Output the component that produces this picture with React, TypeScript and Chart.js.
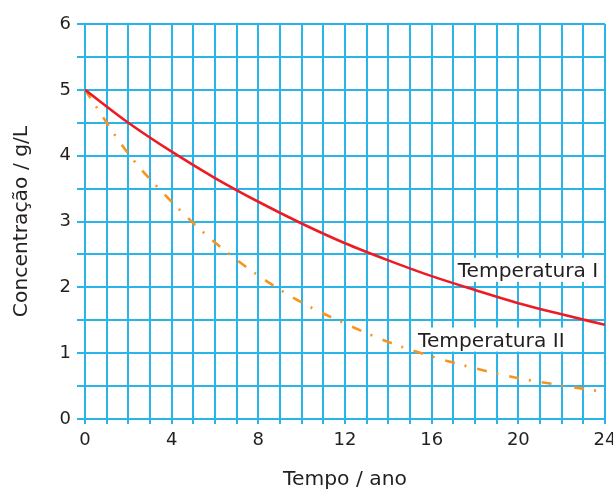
import React, { useEffect, useRef } from "react";
import { Chart, registerables } from "chart.js";

Chart.register(...registerables);

const timeYears = [0, 2, 4, 6, 8, 10, 12, 14, 16, 18, 20, 22, 24];
const temperaturaI = [5.0, 4.5, 4.06, 3.66, 3.3, 2.97, 2.67, 2.41, 2.17, 1.96, 1.76, 1.59, 1.43];
const temperaturaII = [5.0, 4.03, 3.3, 2.68, 2.18, 1.77, 1.45, 1.17, 0.95, 0.77, 0.62, 0.51, 0.41];
const seriesNames = ["Temperatura I", "Temperatura II"];
const xTitle = "Tempo / ano";
const yTitle = "Concentração / g/L";

const FONT = '"DejaVu Sans", Verdana, sans-serif';
const GRID = "#29b5ea";
const TEXT = "#231f20";

const labelPlugin = {
  id: "seriesLabels",
  beforeDatasetsDraw(chart: any) {
    const { ctx, scales } = chart;
    const xs = scales.x;
    const ys = scales.y;
    const items = [
      { text: seriesNames[0], x: 17.2, y: 2.16 },
      { text: seriesNames[1], x: 15.37, y: 1.1 },
    ];
    ctx.save();
    ctx.font = "20.2px " + FONT;
    ctx.textBaseline = "alphabetic";
    ctx.textAlign = "left";
    for (const it of items) {
      const px = xs.getPixelForValue(it.x);
      const py = ys.getPixelForValue(it.y);
      const w = ctx.measureText(it.text).width;
      ctx.fillStyle = "#ffffff";
      ctx.fillRect(px - 3, py - 19, w + 6, 24);
      ctx.fillStyle = TEXT;
      ctx.fillText(it.text, px, py);
    }
    ctx.restore();
  },
};

export default function App() {
  const ref = useRef<HTMLCanvasElement | null>(null);

  useEffect(() => {
    if (!ref.current) return;
    const chart = new Chart(ref.current, {
      type: "line",
      data: {
        datasets: [
          {
            label: seriesNames[0],
            data: timeYears.map((t, i) => ({ x: t, y: temperaturaI[i] })),
            borderColor: "#ed1c24",
            borderWidth: 2.6,
            pointRadius: 0,
            cubicInterpolationMode: "monotone",
            fill: false,
          },
          {
            label: seriesNames[1],
            data: timeYears.map((t, i) => ({ x: t, y: temperaturaII[i] })),
            borderColor: "#f7941d",
            borderWidth: 2.6,
            borderDash: [10, 10, 2, 11],
            pointRadius: 0,
            cubicInterpolationMode: "monotone",
            fill: false,
          },
        ],
      },
      options: {
        animation: false,
        responsive: false,
        layout: { padding: { left: 0, top: 24, right: 8, bottom: 0 } },
        plugins: { legend: { display: false }, tooltip: { enabled: false } },
        scales: {
          x: {
            type: "linear",
            min: 0,
            max: 24,
            afterFit(scale: any) {
              scale.height = 73;
              scale.paddingLeft = 0;
              scale.paddingRight = 0;
            },
            grid: { color: GRID, lineWidth: 2, tickLength: 5, drawTicks: true },
            border: { display: true, color: GRID, width: 2 },
            ticks: {
              stepSize: 1,
              autoSkip: false,
              maxRotation: 0,
              padding: 6,
              color: TEXT,
              font: { family: FONT, size: 18 },
              callback: (v: any) => (Number(v) % 4 === 0 ? String(v) : ""),
            },
            title: {
              display: true,
              text: xTitle,
              color: TEXT,
              font: { family: FONT, size: 20.3 },
              padding: { top: 0, bottom: 0 },
            },
          },
          y: {
            type: "linear",
            min: 0,
            max: 6,
            afterFit(scale: any) {
              scale.width = 85;
              scale.paddingTop = 0;
              scale.paddingBottom = 0;
            },
            grid: { color: GRID, lineWidth: 2, tickLength: 8, drawTicks: true },
            border: { display: true, color: GRID, width: 2 },
            ticks: {
              stepSize: 0.5,
              autoSkip: false,
              padding: 6,
              color: TEXT,
              font: { family: FONT, size: 18 },
              callback: (v: any) => (Number.isInteger(Number(v)) ? String(v) : ""),
            },
            title: {
              display: true,
              text: yTitle,
              color: TEXT,
              font: { family: FONT, size: 20.3 },
              padding: { top: 10, bottom: 0 },
            },
          },
        },
      },
      plugins: [labelPlugin],
    } as any);
    return () => chart.destroy();
  }, []);

  return (
    <div style={{ position: "fixed", left: 0, top: 0, width: 613, height: 492, background: "#fff" }}>
      <canvas ref={ref} width={613} height={492} />
    </div>
  );
}
